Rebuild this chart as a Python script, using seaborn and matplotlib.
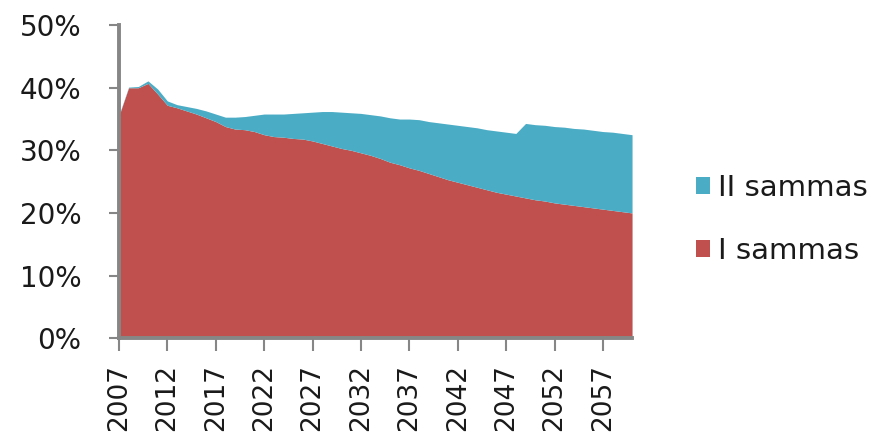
import numpy as np
import pandas as pd
import seaborn as sns
import matplotlib.pyplot as plt
from matplotlib.ticker import PercentFormatter

# aastad 2007..2060
aastad = list(range(2007, 2061))

# I sammas (osakaal, %)
i_sammas = [35.5, 40.0, 40.0, 40.7, 39.0, 37.2, 36.8, 36.3, 35.8, 35.2,
            34.6, 33.8, 33.4, 33.3, 33.0, 32.5, 32.2, 32.1, 31.9, 31.8,
            31.5, 31.1, 30.7, 30.3, 30.0, 29.6, 29.2, 28.7, 28.1, 27.7,
            27.2, 26.8, 26.3, 25.8, 25.3, 24.9, 24.5, 24.1, 23.7, 23.3,
            23.0, 22.7, 22.4, 22.1, 21.9, 21.6, 21.4, 21.2, 21.0, 20.8,
            20.6, 20.4, 20.2, 20.0]

# II sammas (osakaal, %)
ii_sammas = [0.1, 0.1, 0.2, 0.4, 0.8, 0.7, 0.5, 0.7, 0.9, 1.1,
             1.2, 1.5, 1.9, 2.1, 2.6, 3.3, 3.6, 3.7, 4.0, 4.2,
             4.6, 5.1, 5.5, 5.8, 6.0, 6.3, 6.5, 6.8, 7.1, 7.3,
             7.8, 8.1, 8.3, 8.6, 8.9, 9.1, 9.3, 9.5, 9.6, 9.8,
             9.9, 10.0, 11.9, 12.0, 12.1, 12.2, 12.3, 12.3, 12.4, 12.4,
             12.4, 12.5, 12.5, 12.5]

df = pd.DataFrame({'aasta': aastad, 'I sammas': i_sammas, 'II sammas': ii_sammas})

sns.set_style('white')
plt.rcParams['font.family'] = ['DejaVu Sans']

punane = '#C0504D'
sinine = '#4BACC6'
hall = '#868686'
tekst = '#1a1a1a'

fig = plt.figure(figsize=(8.94, 4.34), dpi=100)
ax = fig.add_axes([0.133, 0.221, 0.574, 0.721])

ax.stackplot(df['aasta'], df['I sammas'] / 100, df['II sammas'] / 100,
             colors=[punane, sinine], labels=['I sammas', 'II sammas'],
             linewidth=0)

ax.set_xlim(2007, 2060)
ax.set_ylim(0, 0.5)
ax.set_yticks(np.arange(0, 0.51, 0.1))
ax.yaxis.set_major_formatter(PercentFormatter(1.0, decimals=0))
ax.set_xticks(range(2007, 2061, 5))

sns.despine(ax=ax)
for s in ['left', 'bottom']:
    ax.spines[s].set_color(hall)
    ax.spines[s].set_linewidth(2.8)

ax.tick_params(axis='y', left=True, direction='out', length=7, width=1.5,
               color=hall, pad=20, labelsize=20, labelcolor=tekst)
ax.tick_params(axis='x', bottom=True, direction='out', length=9, width=1.5,
               color=hall, pad=10, labelsize=19, labelcolor=tekst, rotation=90)
ax.set_xlabel('')
ax.set_ylabel('')

# legend: II sammas ülal
h, l = ax.get_legend_handles_labels()
fig.legend(h[::-1], l[::-1], loc='center left', bbox_to_anchor=(0.762, 0.494),
           frameon=False, fontsize=21, handlelength=0.5, handleheight=0.5,
           handletextpad=0.25, labelspacing=1.2, borderpad=0, labelcolor=tekst)

fig.savefig('out.png', dpi=100)
